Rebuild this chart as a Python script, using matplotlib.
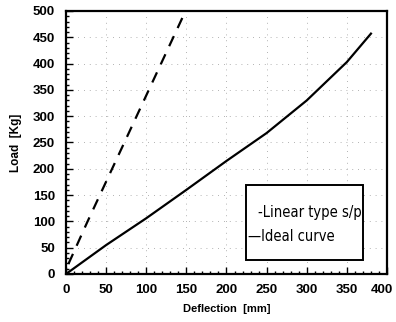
import matplotlib.pyplot as plt
import matplotlib.transforms as mtransforms
from matplotlib.patches import Rectangle

# values
linear_x = [3, 26, 66, 145]
linear_y = [19, 97, 228, 487]
ideal_x = [0, 50, 100, 150, 200, 250, 300, 350, 380]
ideal_y = [0, 55, 106, 160, 215, 268, 330, 403, 457]
x_ticks = list(range(0, 401, 50))
y_ticks = list(range(0, 501, 50))
legend_labels = ["-Linear type s/p", "\u2014Ideal curve"]

plt.rcParams['font.family'] = ['Liberation Sans', 'DejaVu Sans']

fig = plt.figure(figsize=(3.96, 3.22), dpi=100)
ax = fig.add_axes([66 / 396, 48 / 322, 321 / 396, 263 / 322])

ax.plot(linear_x, linear_y, color="black", lw=1.6, ls=(0, (5, 4)))
ax.plot(ideal_x, ideal_y, color="black", lw=1.6)

ax.set_xlim(0, 400)
ax.set_ylim(0, 500)
ax.set_xticks(x_ticks, [str(v) for v in x_ticks], fontweight="bold")
ax.set_yticks(y_ticks, [str(v) for v in y_ticks], fontweight="bold")
ax.set_xticks(range(0, 401, 10), minor=True)
ax.set_yticks(range(0, 501, 10), minor=True)
ax.tick_params(which="both", direction="in", top=False, right=False,
               labelsize=9.5, width=1)
ax.tick_params(which="major", length=5)
ax.tick_params(axis="y", which="major", pad=8)
ax.tick_params(axis="x", which="major", pad=7)
ax.tick_params(which="minor", length=2.5)
for s in ax.spines.values():
    s.set_linewidth(1.6)

ax.grid(True, which="major", color="0.6", ls=(0, (1, 6)), lw=0.6)

ax.set_xlabel("Deflection  [mm]", fontsize=8, fontweight="bold", labelpad=6)
ax.set_ylabel("Load  [Kg]", fontsize=8.5, fontweight="bold", labelpad=8)

# the last x label sits a little left of its tick, as in the reference
last = ax.xaxis.get_major_ticks()[-1].label1
shift = mtransforms.ScaledTranslation(-5 / 100, 0, fig.dpi_scale_trans)
last.set_transform(last.get_transform() + shift)

# legend box with its two text entries
ax.add_patch(Rectangle((0.561, 0.053), 0.364, 0.285, transform=ax.transAxes,
                       fill=True, facecolor="white", edgecolor="black",
                       lw=1.4, zorder=4))
legend_font = {'family': 'DejaVu Sans', 'stretch': 'condensed', 'size': 10.5}
ax.text(0.598, 0.232, legend_labels[0], transform=ax.transAxes,
        va="center", ha="left", zorder=5, fontdict=legend_font)
ax.text(0.566, 0.144, legend_labels[1], transform=ax.transAxes,
        va="center", ha="left", zorder=5, fontdict=legend_font)

fig.savefig("out.png", dpi=100)
